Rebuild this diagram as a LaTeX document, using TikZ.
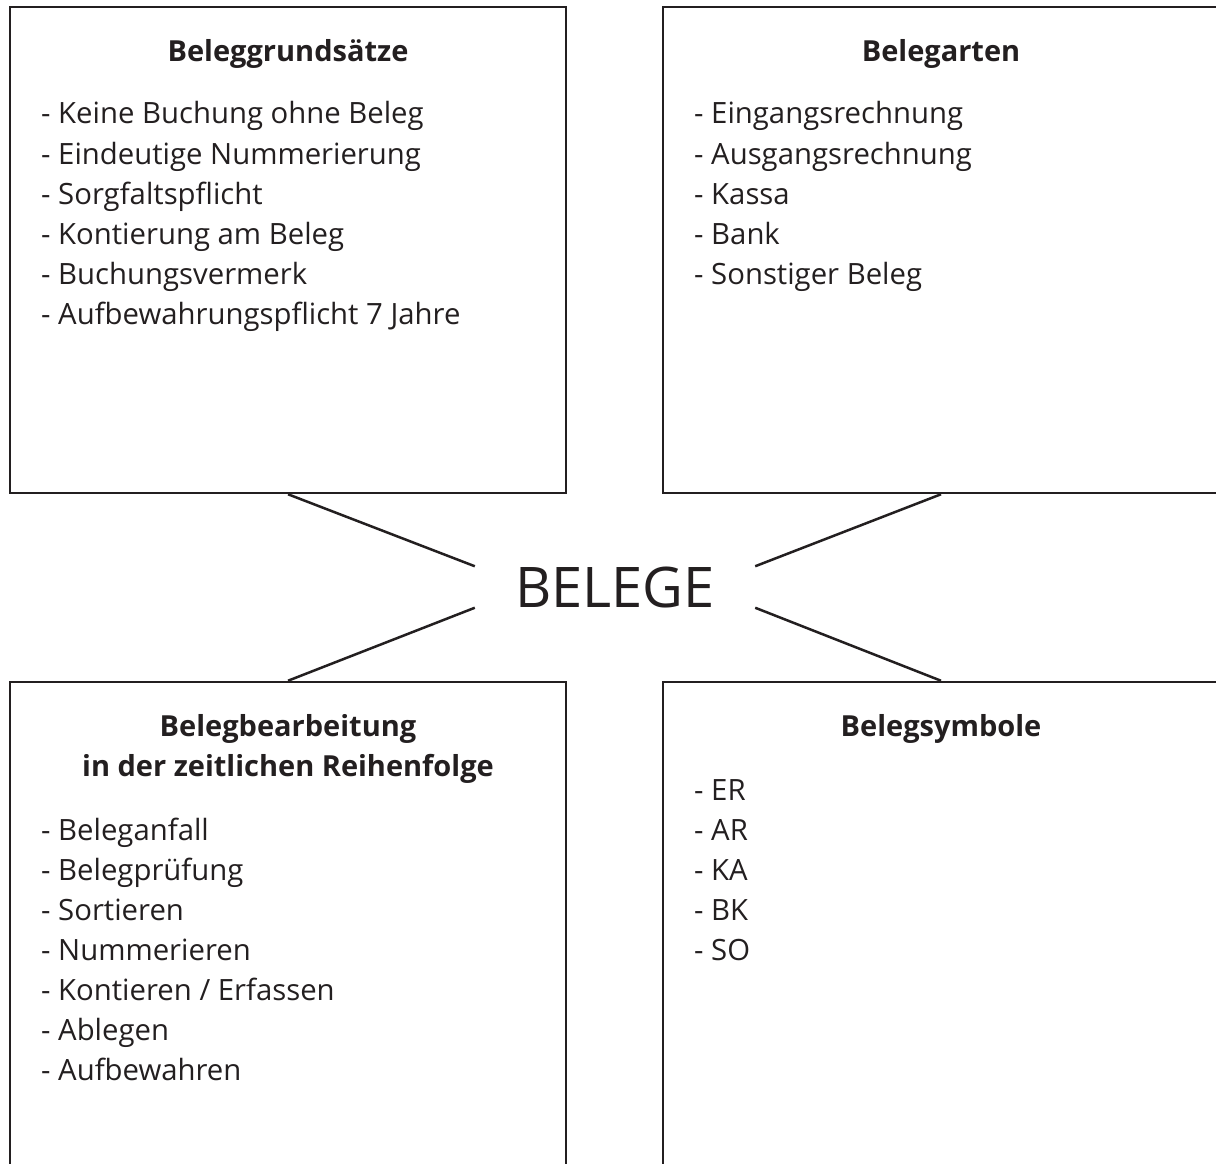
\documentclass[tikz,border=0pt]{standalone}
\usepackage{fontspec}
\setmainfont{Open Sans}
\definecolor{ink}{RGB}{35,31,32}
\begin{document}
\begin{tikzpicture}[x=1pt,y=-1pt,
  panel/.style={draw=ink, line width=2.5pt, minimum width=556pt, inner sep=0pt},
  head/.style={anchor=base, font=\fontsize{29}{29}\selectfont\bfseries, text=ink, inner sep=0pt},
  item/.style={anchor=base west, font=\fontsize{29.3}{29.3}\selectfont, text=ink, inner sep=0pt},
  link/.style={draw=ink, line width=2.5pt}]
\useasboundingbox[fill=white] (0,0) rectangle (1216,1164);

% four panels; the lower ones run past the bottom edge
\node[panel, minimum height=486pt] (tl) at (288,250) {};
\node[panel, minimum height=486pt] (tr) at (941,250) {};
\node[panel, minimum height=520pt] (bl) at (288,942) {};
\node[panel, minimum height=520pt] (br) at (941,942) {};

% central title
\node[font=\fontsize{56}{56}\selectfont, text=ink, minimum width=280pt,
      minimum height=40pt, inner sep=0pt] (belege) at (615,587) {BELEGE};

\draw[link] (tl.south) -- (belege.north west);
\draw[link] (tr.south) -- (belege.north east);
\draw[link] (bl.north) -- (belege.south west);
\draw[link] (br.north) -- (belege.south east);

% headings
\node[head] (tl-h) at (288,62) {Beleggrundsätze};
\node[head] (tr-h) at (941,62) {Belegarten};
\node[head] (bl-h1) at (288,736) {Belegbearbeitung};
\node[head] (bl-h2) at (288,776) {in der zeitlichen Reihenfolge};
\node[head] (br-h) at (941,736) {Belegsymbole};

% lists
\foreach \t [count=\i] in {Keine Buchung ohne Beleg, Eindeutige Nummerierung,
    Sorgfaltspflicht, Kontierung am Beleg, Buchungsvermerk,
    Aufbewahrungspflicht 7 Jahre}
  \node[item] (tl-\i) at (41,84+40*\i) {- \t};
\foreach \t [count=\i] in {Eingangsrechnung, Ausgangsrechnung, Kassa, Bank,
    Sonstiger Beleg}
  \node[item] (tr-\i) at (694,84+40*\i) {- \t};
\foreach \t [count=\i] in {Beleganfall, Belegprüfung, Sortieren, Nummerieren,
    Kontieren / Erfassen, Ablegen, Aufbewahren}
  \node[item] (bl-\i) at (41,800+40*\i) {- \t};
\foreach \t [count=\i] in {ER, AR, KA, BK, SO}
  \node[item] (br-\i) at (694,760+40*\i) {- \t};
\end{tikzpicture}
\end{document}
